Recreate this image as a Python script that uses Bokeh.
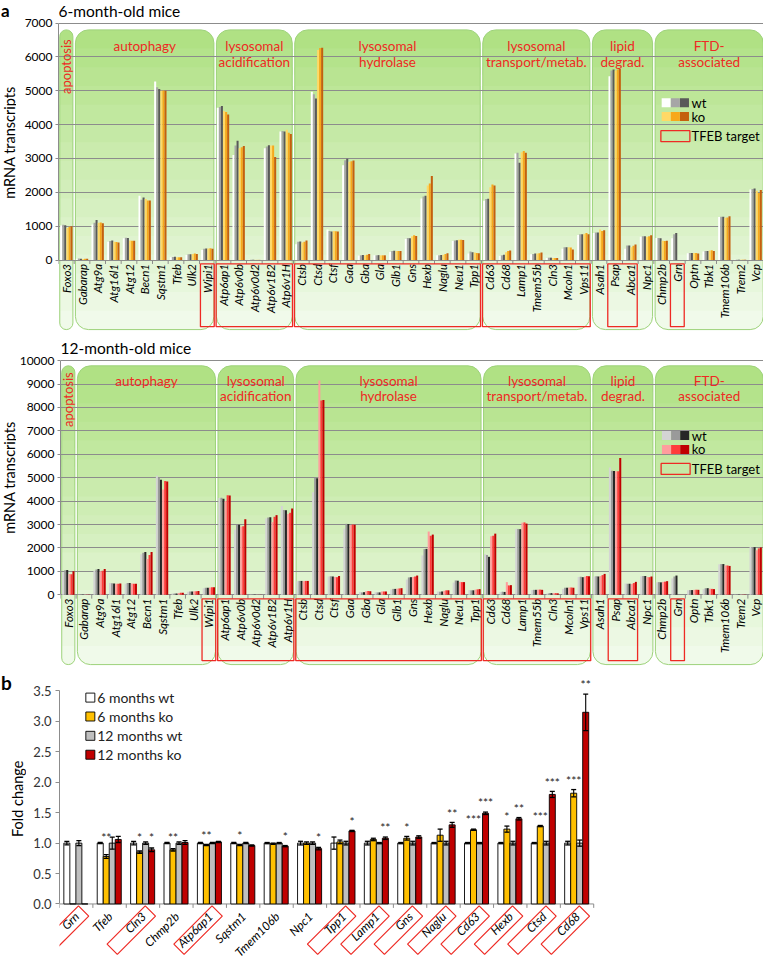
import numpy as np
from bokeh.plotting import figure
from bokeh.models import Range1d, FixedTicker, NumeralTickFormatter
from bokeh.layouts import column, row
from bokeh.embed import file_html
from bokeh.resources import INLINE
from bokeh.core.properties import value

FONT = "Lato"
RED = "#ee2a24"
GRID = "#8c8c8c"
AXC = "#8c8c8c"
W = 763
S = 0.98

# ---------------- data: panel a ----------------
genes = ["Foxo3", "Gabarap", "Atg9a", "Atg16l1", "Atg12", "Becn1", "Sqstm1", "Tfeb", "Ulk2", "Wipi1",
         "Atp6ap1", "Atp6v0b", "Atp6v0d2", "Atp6v1B2", "Atp6v1H",
         "Ctsb", "Ctsd", "Ctsf", "Gaa", "Gba", "Gla", "Glb1", "Gns", "Hexb", "Naglu", "Neu1", "Tpp1",
         "Cd63", "Cd68", "Lamp1", "Tmem55b", "Cln3", "Mcoln1", "Vps11",
         "Asah1", "Psap", "Abca1", "Npc1",
         "Chmp2b", "Grn", "Optn", "Tbk1", "Tmem106b", "Trem2", "Vcp"]

group_names = ["apoptosis", "autophagy", "lysosomal\nacidification", "lysosomal\nhydrolase",
               "lysosomal\ntransport/metab.", "lipid\ndegrad.", "FTD-\nassociated"]
group_first = ["Foxo3", "Gabarap", "Atp6ap1", "Ctsb", "Cd63", "Asah1", "Chmp2b"]
group_last = ["Foxo3", "Wipi1", "Atp6v1H", "Tpp1", "Vps11", "Npc1", "Vcp"]
tfeb_first = ["Wipi1", "Atp6ap1", "Ctsb", "Cd63", "Psap", "Grn"]
tfeb_last = ["Wipi1", "Atp6v1H", "Tpp1", "Vps11", "Abca1", "Grn"]

# 6-month-old mice: three wt and three ko animals
m6_wt1 = [1020, 40, 1050, 540, 640, 1900, 5270, 80, 150, 300, 4500, 3100, 5, 3300, 3800,
          470, 4970, 900, 2800, 130, 140, 240, 620, 1820, 140, 560, 190,
          1750, 120, 3150, 170, 60, 330, 740, 800, 5430, 330, 690, 650, 640, 200, 250, 1270, 10, 2080]
m6_wt2 = [1040, 45, 1100, 560, 660, 1780, 5100, 90, 170, 330, 4520, 3380, 5, 3350, 3810,
          540, 4900, 860, 2950, 140, 140, 270, 650, 1880, 140, 580, 250,
          1800, 140, 3170, 180, 70, 380, 760, 810, 5600, 430, 700, 650, 760, 210, 270, 1280, 10, 2100]
m6_wt3 = [1030, 35, 1180, 580, 650, 1850, 5050, 100, 170, 340, 4550, 3520, 5, 3390, 3800,
          550, 4770, 840, 2990, 150, 145, 275, 640, 1900, 150, 585, 230,
          1810, 160, 2870, 190, 70, 380, 760, 810, 5630, 430, 700, 640, 800, 210, 270, 1280, 10, 2110]
m6_ko1 = [950, 30, 1100, 540, 580, 1800, 5000, 80, 180, 340, 4400, 3300, 5, 3380, 3850,
          520, 6200, 860, 2900, 140, 140, 270, 700, 2200, 160, 600, 220,
          2150, 230, 3180, 190, 60, 380, 780, 900, 5600, 380, 690, 570, 0, 210, 280, 1250, 10, 2050]
m6_ko2 = [980, 35, 1110, 530, 570, 1760, 5010, 80, 190, 350, 4370, 3330, 5, 3380, 3760,
          540, 6260, 850, 2920, 160, 140, 270, 730, 2260, 175, 600, 210,
          2230, 270, 3220, 200, 60, 370, 800, 860, 5630, 420, 700, 560, 0, 205, 290, 1260, 10, 1980]
m6_ko3 = [1000, 40, 1090, 520, 570, 1760, 5000, 80, 180, 330, 4300, 3370, 5, 3040, 3720,
          580, 6270, 840, 2940, 180, 140, 265, 710, 2480, 200, 590, 200,
          2200, 280, 3170, 220, 60, 310, 760, 880, 5640, 460, 730, 570, 0, 190, 270, 1290, 10, 2070]

# 12-month-old mice
m12_wt1 = [960, 15, 1020, 500, 470, 1730, 5080, 50, 130, 280, 4130, 2780, 5, 3260, 3790,
           580, 4380, 780, 2820, 120, 110, 220, 650, 1680, 140, 520, 200,
           1730, 120, 2820, 200, 60, 250, 760, 780, 5430, 480, 790, 530, 700, 190, 240, 1300, 10, 2040]
m12_wt2 = [1050, 15, 1080, 490, 500, 1790, 5000, 55, 140, 300, 4140, 2980, 5, 3300, 3620,
           590, 5000, 790, 3030, 100, 100, 250, 740, 1950, 130, 610, 190,
           1700, 130, 2810, 210, 70, 300, 770, 790, 5300, 470, 800, 540, 780, 200, 280, 1310, 10, 2040]
m12_wt3 = [1060, 15, 1100, 480, 500, 1830, 4910, 55, 140, 300, 4100, 2990, 5, 3310, 3610,
           590, 4980, 780, 3020, 110, 100, 250, 750, 1960, 140, 600, 190,
           1620, 120, 2800, 210, 70, 300, 750, 780, 5290, 470, 800, 530, 820, 200, 280, 1310, 10, 2030]
m12_ko1 = [890, 10, 1000, 470, 480, 1530, 4500, 70, 150, 310, 4000, 2900, 5, 3100, 3450,
           580, 9150, 760, 2980, 150, 140, 260, 760, 2700, 170, 550, 220,
           2500, 540, 3080, 220, 70, 310, 770, 800, 5280, 460, 760, 550, 0, 210, 260, 1250, 10, 1900]
m12_ko2 = [870, 10, 1030, 470, 470, 1700, 4860, 80, 150, 320, 4250, 2930, 5, 3330, 3500,
           590, 8300, 750, 3000, 160, 140, 270, 780, 2520, 190, 540, 230,
           2520, 400, 3090, 220, 70, 310, 800, 840, 5280, 500, 750, 560, 0, 215, 250, 1250, 10, 1980]
m12_ko3 = [1000, 10, 1100, 480, 470, 1830, 4840, 80, 160, 320, 4240, 3220, 5, 3400, 3680,
           590, 8320, 800, 2990, 150, 140, 280, 820, 2570, 190, 540, 240,
           2610, 410, 3040, 210, 60, 300, 790, 890, 5840, 550, 780, 580, 0, 210, 240, 1230, 10, 2020]

# ---------------- data: panel b ----------------
genes_b = ["Grn", "Tfeb", "Cln3", "Chmp2b", "Atp6ap1", "Sqstm1", "Tmem106b", "Npc1",
           "Tpp1", "Lamp1", "Gns", "Naglu", "Cd63", "Hexb", "Ctsd", "Cd68"]
tfeb_b = [True, False, True, False, True, False, False, False,
          True, True, True, True, True, True, True, True]
fc_wt6 = [1.0] * 16
err_wt6 = [0.03, 0.01, 0.03, 0.01, 0.01, 0.01, 0.01, 0.03, 0.1, 0.03, 0.01, 0.01, 0.01, 0.01, 0.01, 0.03]
fc_ko6 = [0.0, 0.78, 0.85, 0.89, 0.97, 0.97, 0.99, 1.0, 1.02, 1.06, 1.08, 1.13, 1.22, 1.23, 1.28, 1.82]
err_ko6 = [0.0, 0.03, 0.02, 0.02, 0.01, 0.01, 0.01, 0.02, 0.03, 0.02, 0.03, 0.1, 0.01, 0.05, 0.01, 0.06]
fc_wt12 = [1.0] * 16
err_wt12 = [0.04, 0.1, 0.02, 0.02, 0.01, 0.01, 0.01, 0.02, 0.03, 0.01, 0.03, 0.03, 0.01, 0.03, 0.03, 0.05]
fc_ko12 = [0.0, 1.06, 0.89, 1.01, 1.02, 0.96, 0.95, 0.91, 1.2, 1.08, 1.1, 1.3, 1.49, 1.4, 1.8, 3.15]
err_ko12 = [0.0, 0.05, 0.03, 0.03, 0.01, 0.01, 0.01, 0.02, 0.01, 0.02, 0.02, 0.04, 0.02, 0.02, 0.05, 0.3]
stars_ko6 = ["", "**", "*", "**", "**", "*", "", "", "", "", "*", "", "***", "*", "***", "***"]
stars_ko12 = ["", "", "*", "", "", "", "*", "*", "*", "**", "", "**", "***", "**", "***", "**"]
series_b_names = ["6 months wt", "6 months ko", "12 months wt", "12 months ko"]


def lerp(c1, c2, t):
    return "#%02x%02x%02x" % tuple(int(round(a + (b - a) * t)) for a, b in zip(c1, c2))


def side_fig(width, height, y_range):
    f = figure(width=width, height=height, x_range=Range1d(0, width), y_range=y_range,
               output_backend="svg", toolbar_location=None, x_axis_location=None, y_axis_location=None,
               min_border=0, outline_line_color=None)
    f.xgrid.visible = False
    f.ygrid.visible = False
    return f


LW = 16  # width of the side strip holding the axis title


def expr_panel(letter, title, series, colors, ytop, zero_px, ppu, f_top, f_bot,
               box_top_px, box_bot_px, red_top_px, red_bot_px, title_px, ylabel_px,
               line1_px, line2_px, apop_px, leg_px):
    Y = lambda py: (zero_px - py) / ppu
    X = lambda px: (px - 59) / 16.0
    n = len(genes)
    idx = {g: i for i, g in enumerate(genes)}
    height = int(round((f_bot - f_top) * S))
    yr = Range1d(Y(f_bot), Y(f_top))
    p = figure(width=W - LW, height=height, x_range=Range1d(0, n), y_range=yr,
               output_backend="svg", toolbar_location=None, x_axis_location=None,
               min_border_left=58 - LW, min_border_right=0, min_border_top=0, min_border_bottom=0,
               outline_line_color=None)
    ticks = list(range(0, ytop + 1, 1000))
    p.yaxis.ticker = FixedTicker(ticks=ticks)
    p.yaxis.bounds = (0, ytop)
    p.yaxis.axis_line_color = AXC
    p.yaxis.major_tick_line_color = AXC
    p.yaxis.major_tick_out = 3
    p.yaxis.major_tick_in = 0
    p.yaxis.minor_tick_line_color = None
    p.yaxis.major_label_text_font = FONT
    p.yaxis.major_label_text_font_size = "12px"
    p.yaxis.major_label_text_color = "black"
    p.yaxis.major_label_standoff = 3
    p.xgrid.grid_line_color = None
    p.ygrid.grid_line_color = GRID
    p.ygrid.grid_line_width = 1

    # green group boxes (vertical gradient made of bands)
    lefts = [idx[a] + 0.08 for a in group_first]
    rights = [idx[b] + 0.92 for b in group_last]
    rights[-1] = n - 0.02
    top_c, bot_c = (176, 225, 132), (240, 250, 234)
    nb = 16
    edges = np.linspace(Y(box_top_px), Y(box_bot_px), nb + 1)
    rad = 13
    for k in range(nb):
        col = lerp(top_c, bot_c, k / (nb - 1))
        h = edges[k] - edges[k + 1]
        if k == 0:
            br = (rad, rad, 0, 0)
        elif k == nb - 1:
            br = (0, 0, rad, rad)
        else:
            br = 0
        bottom = edges[k + 1] - (0.4 * h if k < nb - 1 else 0)
        r = p.quad(left=lefts, right=rights, top=edges[k], bottom=bottom,
                   fill_color=col, line_color=None, border_radius=br)
        r.level = "image"
    r = p.quad(left=lefts, right=rights, top=Y(box_top_px), bottom=Y(box_bot_px),
               fill_alpha=0, line_color="#9dd27a", line_width=1, border_radius=rad)
    r.level = "image"

    # group titles
    for name, l, rr in zip(group_names, lefts, rights):
        if name == "apoptosis":
            p.text(x=[(l + rr) / 2], y=[Y(apop_px)], text=[name], angle=np.pi / 2,
                   text_align="center", text_baseline="middle", text_font=value(FONT),
                   text_font_size="13px", text_color=RED)
            continue
        for li, txt in enumerate(name.split("\n")):
            p.text(x=[(l + rr) / 2], y=[Y(line1_px if li == 0 else line2_px)], text=[txt],
                   text_align="center", text_baseline="middle", text_font=value(FONT),
                   text_font_size="13.5px", text_color=RED)

    # bars
    offs = [0.17, 0.30, 0.43, 0.57, 0.70, 0.83]
    xs = np.arange(n)
    for s, c, o in zip(series, colors, offs):
        p.vbar(x=xs + o, top=s, bottom=0, width=0.13, fill_color=c, line_color=None)

    # x tick marks
    bx = np.arange(n + 1)
    p.segment(x0=bx, y0=[0] * (n + 1), x1=bx, y1=[Y(zero_px + 4)] * (n + 1), line_color=AXC, line_width=1)

    # gene labels
    p.text(x=xs + 0.5, y=[Y(zero_px + 4)] * n, text=genes, angle=np.pi / 2, text_align="right",
           text_baseline="middle", text_font=value(FONT), text_font_style="italic",
           text_font_size="11.5px", text_color="black")

    # TFEB target boxes
    p.quad(left=[idx[a] + 0.06 for a in tfeb_first], right=[idx[b] + 0.94 for b in tfeb_last],
           top=Y(red_top_px), bottom=Y(red_bot_px), fill_alpha=0, line_color=RED, line_width=1.3)

    # legend
    sq_x = [X(679.6), X(689.0), X(698.3)]
    for rw, cols in ((0, colors[:3]), (1, colors[3:])):
        p.rect(x=sq_x, y=[Y(leg_px[rw])] * 3, width=9, height=9, width_units="screen",
               height_units="screen", fill_color=cols, line_color=None)
    p.rect(x=[X(689)], y=[Y(leg_px[2])], width=29, height=11, width_units="screen",
           height_units="screen", fill_alpha=0, line_color=RED, line_width=1.3)
    p.text(x=[X(705.5)] * 3, y=[Y(v) for v in leg_px], text=["wt", "ko", "TFEB target"],
           text_align="left", text_baseline="middle", text_font=value(FONT),
           text_font_size="13px", text_color="black")

    # panel title
    p.text(x=[0.0], y=[Y(title_px)], text=[title], text_align="left", text_baseline="top",
           text_font=value(FONT), text_font_size="15.5px", text_color="black")

    # side strip: letter + axis title
    sf = side_fig(LW, height, yr)
    if letter:
        sf.text(x=[0.5], y=[Y(f_top - 1)], text=[letter], text_align="left", text_baseline="top",
                text_font=value(FONT), text_font_style="bold", text_font_size="17px", text_color="black")
    sf.text(x=[8.5], y=[Y(ylabel_px)], text=["mRNA transcripts"], angle=np.pi / 2,
            text_align="center", text_baseline="middle", text_font=value(FONT),
            text_font_size="14.5px", text_color="black")
    return row(sf, p, spacing=0)


col6 = ["#ffffff", "#a6a6a6", "#595959", "#ffd966", "#f7a81b", "#c4600e"]
col12 = ["#d4d4d4", "#9a9a9a", "#262626", "#ff9d9d", "#ff3b3b", "#c00000"]

p1 = expr_panel("a", "6-month-old mice", [m6_wt1, m6_wt2, m6_wt3, m6_ko1, m6_ko2, m6_ko3], col6,
                7000, 265.0, 242.0 / 7000, 0, 340, 30, 336, 269, 333, 2, 145,
                46, 63, 67.5, [104.5, 118.5, 138.5])
p2 = expr_panel(None, "12-month-old mice", [m12_wt1, m12_wt2, m12_wt3, m12_ko1, m12_ko2, m12_ko3], col12,
                10000, 606.7, 239.0 / 10000, 340, 682, 373, 678, 611, 674, 346, 487,
                388, 404, 407.5, [444.2, 458.3, 478.3])

# ---------------- panel b ----------------
LWB = 26
zb, ppb = 922.3, 62.1
Yb = lambda py: (zb - py) / ppb
Xb = lambda px: (px - 60) / 34.1
nb_ = len(genes_b)
hb = int(round((980 - 682) * S))
yrb = Range1d(Yb(980), Yb(682))
p3 = figure(width=W - LWB, height=hb, x_range=Range1d(0, (779 - 60) / 34.1), y_range=yrb,
            output_backend="svg", toolbar_location=None, x_axis_location=None,
            min_border_left=59 - LWB, min_border_right=0, min_border_top=0, min_border_bottom=0,
            outline_line_color=None)
p3.xgrid.grid_line_color = None
p3.ygrid.grid_line_color = None
p3.yaxis.ticker = FixedTicker(ticks=[0, 0.5, 1.0, 1.5, 2.0, 2.5, 3.0, 3.5])
p3.yaxis.formatter = NumeralTickFormatter(format="0.0")
p3.yaxis.bounds = (0, 3.5)
p3.yaxis.axis_line_color = AXC
p3.yaxis.major_tick_line_color = AXC
p3.yaxis.major_tick_out = 4
p3.yaxis.major_tick_in = 0
p3.yaxis.minor_tick_line_color = None
p3.yaxis.major_label_text_font = FONT
p3.yaxis.major_label_text_font_size = "13px"
p3.yaxis.major_label_text_color = "#333333"
p3.yaxis.major_label_standoff = 4

xb = np.arange(nb_)
p3.segment(x0=[0], y0=[0], x1=[nb_], y1=[0], line_color=AXC, line_width=1)
p3.segment(x0=np.arange(nb_ + 1), y0=[0] * (nb_ + 1), x1=np.arange(nb_ + 1), y1=[Yb(zb + 4)] * (nb_ + 1),
           line_color=AXC, line_width=1)

bcols = ["#ffffff", "#ffc000", "#bfbfbf", "#c00000"]
boffs = [0.22, 0.40, 0.58, 0.76]
vals = [fc_wt6, fc_ko6, fc_wt12, fc_ko12]
errs = [err_wt6, err_ko6, err_wt12, err_ko12]
for v, e, c, o in zip(vals, errs, bcols, boffs):
    v = np.array(v); e = np.array(e); x = xb + o
    p3.vbar(x=x, top=v, bottom=0, width=0.18, fill_color=c, line_color="black", line_width=0.9)
    m = e > 0
    p3.segment(x0=x[m], y0=(v - e)[m], x1=x[m], y1=(v + e)[m], line_color="black", line_width=1.1)
    p3.segment(x0=x[m] - 0.075, y0=(v + e)[m], x1=x[m] + 0.075, y1=(v + e)[m], line_color="black", line_width=1.3)
    p3.segment(x0=x[m] - 0.075, y0=(v - e)[m], x1=x[m] + 0.075, y1=(v - e)[m], line_color="black", line_width=1.3)

for st, v, e, o in ((stars_ko6, fc_ko6, err_ko6, boffs[1]), (stars_ko12, fc_ko12, err_ko12, boffs[3])):
    sx, sy, stx = [], [], []
    for i, s in enumerate(st):
        if s:
            sx.append(i + o)
            sy.append(max(v[i] + e[i], 0.95) + 0.15)
            stx.append(s)
    p3.text(x=sx, y=sy, text=stx, text_align="center", text_baseline="middle", text_font=value(FONT),
            text_font_size="12px", text_color="#222222")

p3.text(x=xb + 0.52, y=[-0.17] * nb_, text=genes_b, angle=np.pi / 4, text_align="right",
        text_baseline="middle", text_font=value(FONT), text_font_style="italic",
        text_font_size="12px", text_color="black")
bx_ = [i + 0.15 for i in range(nb_) if tfeb_b[i]]
p3.rect(x=bx_, y=[-0.43] * len(bx_), width=54, height=14.5, width_units="screen", height_units="screen",
        angle=np.pi / 4, fill_alpha=0, line_color=RED, line_width=1.2)

ly = [711.7, 731.0, 750.7, 770.0]
p3.rect(x=[Xb(91.5)] * 4, y=[Yb(v) for v in ly], width=9, height=9, width_units="screen",
        height_units="screen", fill_color=bcols, line_color="black", line_width=0.9)
p3.text(x=[Xb(98.5)] * 4, y=[Yb(v) for v in ly], text=series_b_names, text_align="left",
        text_baseline="middle", text_font=value(FONT), text_font_size="14px", text_color="#222222")

sfb = side_fig(LWB, hb, yrb)
sfb.text(x=[0.5], y=[Yb(685)], text=["b"], text_align="left", text_baseline="top",
         text_font=value(FONT), text_font_style="bold", text_font_size="19px", text_color="black")
sfb.text(x=[16.5], y=[Yb(815)], text=["Fold change"], angle=np.pi / 2, text_align="center",
         text_baseline="middle", text_font=value(FONT), text_font_size="14.5px", text_color="black")
p3row = row(sfb, p3, spacing=0)

layout = column(p1, p2, p3row, spacing=0)
open("out.html", "w").write(file_html(layout, INLINE))
